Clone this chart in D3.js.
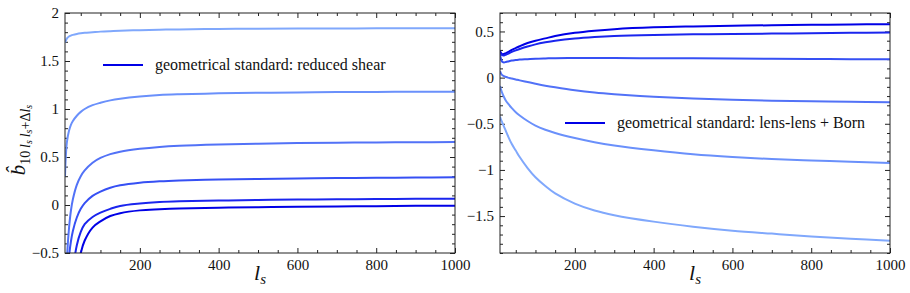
<!DOCTYPE html>
<html>
<head>
<meta charset="utf-8">
<script src="https://cdn.jsdelivr.net/npm/d3@7"></script>
</head>
<body style="margin:0">
<div id="chart"></div>
<script>
// ls grid shared by all curves
var ls = [10, 12, 15, 20, 25, 30, 40, 50, 60, 80, 100, 125, 150, 200, 250, 300, 400, 500, 600, 700, 800, 900, 1000];

// left panel: reduced shear (light -> dark)
var shear1 = [1.69, 1.71, 1.735, 1.755, 1.765, 1.772, 1.782, 1.789, 1.794, 1.800, 1.806, 1.811, 1.815, 1.821, 1.826, 1.829, 1.834, 1.836, 1.838, 1.839, 1.840, 1.840, 1.841];
var shear2 = [0.30, 0.50, 0.66, 0.77, 0.835, 0.875, 0.93, 0.97, 1.00, 1.04, 1.065, 1.09, 1.107, 1.13, 1.145, 1.153, 1.163, 1.169, 1.173, 1.176, 1.178, 1.180, 1.180];
var shear3 = [-1.4, -0.9, -0.55, -0.25, -0.06, 0.06, 0.21, 0.30, 0.36, 0.44, 0.49, 0.53, 0.555, 0.585, 0.605, 0.617, 0.630, 0.638, 0.645, 0.649, 0.652, 0.654, 0.656];
var shear4 = [-2.2, -1.6, -0.9, -0.55, -0.38, -0.27, -0.13, -0.04, 0.02, 0.095, 0.14, 0.18, 0.205, 0.232, 0.247, 0.256, 0.266, 0.272, 0.277, 0.281, 0.284, 0.286, 0.288];
var shear5 = [-3.0, -2.4, -1.8, -1.3, -0.9, -0.68, -0.42, -0.28, -0.20, -0.125, -0.08, -0.04, -0.01, 0.015, 0.03, 0.038, 0.046, 0.052, 0.056, 0.059, 0.062, 0.064, 0.066];
var shear6 = [-3.5, -3.0, -2.4, -1.9, -1.5, -1.2, -0.75, -0.50, -0.37, -0.235, -0.17, -0.115, -0.085, -0.056, -0.045, -0.037, -0.029, -0.023, -0.019, -0.015, -0.012, -0.009, -0.007];

// right panel: lens-lens + Born (dark -> light)
var born1 = [0.29, 0.27, 0.255, 0.255, 0.265, 0.275, 0.30, 0.32, 0.34, 0.375, 0.40, 0.425, 0.45, 0.485, 0.508, 0.525, 0.545, 0.555, 0.562, 0.567, 0.572, 0.576, 0.579];
var born2 = [0.27, 0.255, 0.243, 0.24, 0.248, 0.258, 0.278, 0.295, 0.31, 0.337, 0.36, 0.382, 0.40, 0.425, 0.441, 0.452, 0.463, 0.469, 0.473, 0.477, 0.481, 0.485, 0.489];
var born3 = [0.25, 0.21, 0.175, 0.165, 0.17, 0.175, 0.185, 0.19, 0.195, 0.20, 0.205, 0.208, 0.21, 0.212, 0.212, 0.212, 0.21, 0.209, 0.207, 0.205, 0.202, 0.20, 0.20];
var born4 = [0.07, 0.05, 0.03, 0.015, 0.007, 0.0, -0.01, -0.02, -0.03, -0.048, -0.066, -0.087, -0.105, -0.137, -0.162, -0.18, -0.207, -0.226, -0.240, -0.25, -0.256, -0.262, -0.266];
var born5 = [-0.09, -0.12, -0.16, -0.21, -0.25, -0.28, -0.33, -0.375, -0.41, -0.47, -0.52, -0.565, -0.60, -0.655, -0.70, -0.735, -0.787, -0.83, -0.86, -0.882, -0.897, -0.912, -0.925];
var born6 = [-0.42, -0.45, -0.48, -0.53, -0.58, -0.63, -0.72, -0.79, -0.86, -0.98, -1.08, -1.175, -1.255, -1.365, -1.44, -1.49, -1.56, -1.615, -1.658, -1.69, -1.72, -1.745, -1.766];

var leftColors = ["#80a8fc", "#6a90fb", "#5272f7", "#3650f4", "#1a25ee", "#0000e6"];
var rightColors = ["#0000e6", "#1a25ee", "#3650f4", "#5272f7", "#6a90fb", "#80a8fc"];

var leftYTicks = [-0.5, 0, 0.5, 1, 1.5, 2];
var rightYTicks = [-1.5, -1, -0.5, 0, 0.5];
var xTicks = [200, 400, 600, 800, 1000];

var FONT = "Liberation Serif";

var svg = d3.select("#chart").append("svg")
    .attr("width", 910)
    .attr("height", 293)
    .style("display", "block");

// put the serif face on a text node in every way the browser honours
function serif(sel, size) {
  sel.attr("font-family", FONT)
      .style("font-family", FONT + ", serif", "important")
      .attr("font-size", size)
      .attr("fill", "#111");
}

function fmt(d) {
  return d < 0 ? "\u2212" + Math.abs(d) : String(d);
}

function styleAxis(g) {
  g.attr("font-family", FONT).attr("font-size", 15);
  g.select(".domain").remove();
  g.selectAll("line").attr("stroke", "#222");
  g.selectAll("text").call(serif, 15);
}

function createPanel(id, box, yDomain, yTicks, series, colors, legend) {
  var x = d3.scaleLinear().domain([10, 1000]).range([box.left, box.right]);
  var y = d3.scaleLinear().domain(yDomain).range([box.bottom, box.top]);
  var w = box.right - box.left, h = box.bottom - box.top;

  svg.append("defs").append("clipPath")
      .attr("id", id)
    .append("rect")
      .attr("x", box.left).attr("y", box.top)
      .attr("width", w).attr("height", h);

  var minorX = d3.range(50, 1000, 50).filter(function(d) { return d % 200 !== 0; });
  var minorY = d3.range(Math.ceil(yDomain[0] * 10), Math.floor(yDomain[1] * 10) + 1)
      .map(function(d) { return d / 10; })
      .filter(function(d) { return Math.abs(d * 2 - Math.round(d * 2)) > 1e-6; });

  // major ticks with labels, pointing inward
  svg.append("g")
      .attr("transform", "translate(0," + box.bottom + ")")
      .call(d3.axisBottom(x).tickValues(xTicks).tickFormat(fmt).tickSizeInner(-5).tickSizeOuter(0).tickPadding(6))
      .call(styleAxis);
  svg.append("g")
      .attr("transform", "translate(" + box.left + ",0)")
      .call(d3.axisLeft(y).tickValues(yTicks).tickFormat(fmt).tickSizeInner(-5).tickSizeOuter(0).tickPadding(6))
      .call(styleAxis);

  // mirrored ticks on top and right
  svg.append("g")
      .attr("transform", "translate(0," + box.top + ")")
      .call(d3.axisTop(x).tickValues(xTicks).tickFormat("").tickSizeInner(-5).tickSizeOuter(0))
      .call(styleAxis);
  svg.append("g")
      .attr("transform", "translate(" + box.right + ",0)")
      .call(d3.axisRight(y).tickValues(yTicks).tickFormat("").tickSizeInner(-5).tickSizeOuter(0))
      .call(styleAxis);

  // minor ticks
  [["axisBottom", box.bottom], ["axisTop", box.top]].forEach(function(a) {
    svg.append("g")
        .attr("transform", "translate(0," + a[1] + ")")
        .call(d3[a[0]](x).tickValues(minorX).tickFormat("").tickSizeInner(-3).tickSizeOuter(0))
        .call(styleAxis);
  });
  [["axisLeft", box.left], ["axisRight", box.right]].forEach(function(a) {
    svg.append("g")
        .attr("transform", "translate(" + a[1] + ",0)")
        .call(d3[a[0]](y).tickValues(minorY).tickFormat("").tickSizeInner(-3).tickSizeOuter(0))
        .call(styleAxis);
  });

  var line = d3.line()
      .curve(d3.curveCatmullRom.alpha(0.5))
      .x(function(d, i) { return x(ls[i]); })
      .y(function(d) { return y(d); });

  svg.append("g")
      .attr("clip-path", "url(#" + id + ")")
    .selectAll("path")
    .data(series)
    .enter().append("path")
      .attr("fill", "none")
      .attr("stroke", function(d, i) { return colors[i]; })
      .attr("stroke-width", 2)
      .attr("d", line);

  svg.append("rect")
      .attr("x", box.left).attr("y", box.top)
      .attr("width", w).attr("height", h)
      .attr("fill", "none").attr("stroke", "#222");

  // legend
  svg.append("line")
      .attr("x1", box.left + legend.dx).attr("x2", box.left + legend.dx + 40)
      .attr("y1", box.top + legend.dy).attr("y2", box.top + legend.dy)
      .attr("stroke", "#0000e6").attr("stroke-width", 2.2);
  svg.append("text")
      .attr("x", box.left + legend.dx + 52)
      .attr("y", box.top + legend.dy + 5)
      .call(serif, 16)
      .text(legend.label);

  // x label
  var xl = svg.append("text")
      .attr("x", (box.left + box.right) / 2)
      .attr("y", box.bottom + 27)
      .attr("text-anchor", "middle")
      .call(serif, 22);
  xl.append("tspan").attr("font-style", "italic").text("l");
  xl.append("tspan").attr("font-style", "italic").attr("font-size", 15)
      .attr("dy", 4).text("s");
}

createPanel("clipL", {left: 65, right: 455, top: 13, bottom: 253},
    [-0.5, 2], leftYTicks,
    [shear1, shear2, shear3, shear4, shear5, shear6], leftColors,
    {dx: 38, dy: 52, label: "geometrical standard: reduced shear"});

createPanel("clipR", {left: 500, right: 890, top: 13, bottom: 253},
    [-1.9, 0.7], rightYTicks,
    [born1, born2, born3, born4, born5, born6], rightColors,
    {dx: 65, dy: 110, label: "geometrical standard: lens-lens + Born"});

// y label of the left panel
var yl = svg.append("text")
    .attr("transform", "translate(25,140) rotate(-90)")
    .attr("text-anchor", "middle")
    .call(serif, 21);
yl.append("tspan").attr("font-style", "italic").text("b\u0302");
yl.append("tspan").attr("dy", 5).attr("font-size", 14).text("10\u2009");
yl.append("tspan").attr("font-size", 14).attr("font-style", "italic").text("l");
yl.append("tspan").attr("dy", 2).attr("font-size", 10).attr("font-style", "italic").text("s");
yl.append("tspan").attr("dy", -2).attr("font-size", 14).attr("font-style", "italic").text("\u2009l");
yl.append("tspan").attr("dy", 2).attr("font-size", 10).attr("font-style", "italic").text("s");
yl.append("tspan").attr("dy", -2).attr("font-size", 14).text("+\u0394");
yl.append("tspan").attr("font-size", 14).attr("font-style", "italic").text("l");
yl.append("tspan").attr("dy", 2).attr("font-size", 10).attr("font-style", "italic").text("s");
</script>
</body>
</html>
